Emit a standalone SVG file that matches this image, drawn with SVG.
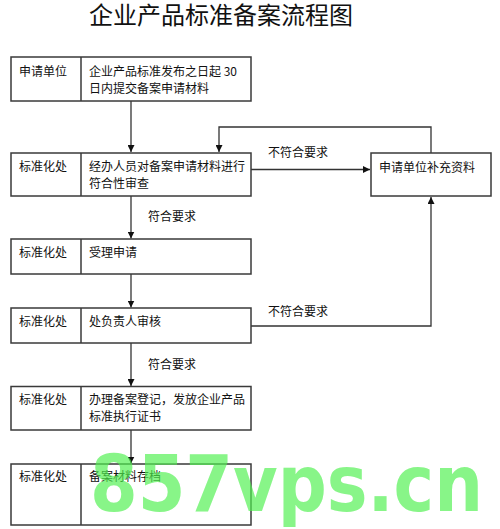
<svg xmlns="http://www.w3.org/2000/svg" width="500" height="529" viewBox="0 0 500 529">
<defs>
<style>
.box{fill:#fff;stroke:#3a3a3a;stroke-width:1.5}
.div{stroke:#3a3a3a;stroke-width:1.5}
.t{font-family:"Noto Sans CJK SC","Noto Sans",sans-serif;font-size:12px;fill:#111}
.title{font-family:"Noto Sans CJK SC","Noto Sans",sans-serif;font-size:24px;fill:#111}
.c{fill:none;stroke:#333;stroke-width:1.3}
.wm{font-family:"DejaVu Sans",sans-serif;font-weight:bold;font-size:78px;fill:#50f050;fill-opacity:0.68}
</style>
<marker id="ah" viewBox="0 0 10 10" refX="10" refY="5" markerWidth="7" markerHeight="7" markerUnits="userSpaceOnUse" orient="auto">
<path d="M0,0 L10,5 L0,10 z" fill="#111"/>
</marker>
</defs>
<rect width="500" height="529" fill="#fff"/>
<text class="title" x="221" y="24" text-anchor="middle">企业产品标准备案流程图</text>

<g id="connectors">
<line class="c" x1="131" y1="101" x2="131" y2="152" marker-end="url(#ah)"/>
<line class="c" x1="251" y1="169.5" x2="370" y2="169.5" marker-end="url(#ah)"/>
<polyline class="c" points="431,153 431,127 219,127 219,152" marker-end="url(#ah)"/>
<line class="c" x1="131" y1="196" x2="131" y2="238.5" marker-end="url(#ah)"/>
<line class="c" x1="131" y1="274" x2="131" y2="307.5" marker-end="url(#ah)"/>
<polyline class="c" points="251,326 431,326 431,197" marker-end="url(#ah)"/>
<line class="c" x1="131" y1="343" x2="131" y2="386" marker-end="url(#ah)"/>
<line class="c" x1="131" y1="430" x2="131" y2="463.5" marker-end="url(#ah)"/>
<text class="t" x="268" y="157">不符合要求</text>
<text class="t" x="148" y="221">符合要求</text>
<text class="t" x="268" y="316">不符合要求</text>
<text class="t" x="148" y="369">符合要求</text>
</g>

<g id="n1">
<rect class="box" x="11" y="57" width="240" height="44"/>
<line class="div" x1="81" y1="57" x2="81" y2="101"/>
<text class="t" x="19" y="76">申请单位</text>
<text class="t" x="89" y="76">企业产品标准发布之日起 30</text>
<text class="t" x="89" y="93">日内提交备案申请材料</text>
</g>
<g id="n2">
<rect class="box" x="11" y="153" width="240" height="43"/>
<line class="div" x1="81" y1="153" x2="81" y2="196"/>
<text class="t" x="19" y="171">标准化处</text>
<text class="t" x="89" y="171">经办人员对备案申请材料进行</text>
<text class="t" x="89" y="188">符合性审查</text>
</g>
<g id="n3">
<rect class="box" x="371" y="153" width="120" height="43"/>
<text class="t" x="379" y="172">申请单位补充资料</text>
</g>
<g id="n4">
<rect class="box" x="11" y="239" width="240" height="35"/>
<line class="div" x1="81" y1="239" x2="81" y2="274"/>
<text class="t" x="19" y="257">标准化处</text>
<text class="t" x="89" y="257">受理申请</text>
</g>
<g id="n5">
<rect class="box" x="11" y="308" width="240" height="35"/>
<line class="div" x1="81" y1="308" x2="81" y2="343"/>
<text class="t" x="19" y="326">标准化处</text>
<text class="t" x="89" y="326">处负责人审核</text>
</g>
<g id="n6">
<rect class="box" x="11" y="386.5" width="240" height="43.5"/>
<line class="div" x1="81" y1="386.5" x2="81" y2="430"/>
<text class="t" x="19" y="404">标准化处</text>
<text class="t" x="89" y="404">办理备案登记，发放企业产品</text>
<text class="t" x="89" y="421">标准执行证书</text>
</g>
<g id="n7">
<rect class="box" x="11" y="464" width="240" height="61"/>
<line class="div" x1="81" y1="464" x2="81" y2="525"/>
<text class="t" x="19" y="481">标准化处</text>
<text class="t" x="89" y="481">备案材料存档</text>
</g>

<text class="wm" x="90" y="511" textLength="393" lengthAdjust="spacingAndGlyphs">857vps.cn</text>
</svg>
